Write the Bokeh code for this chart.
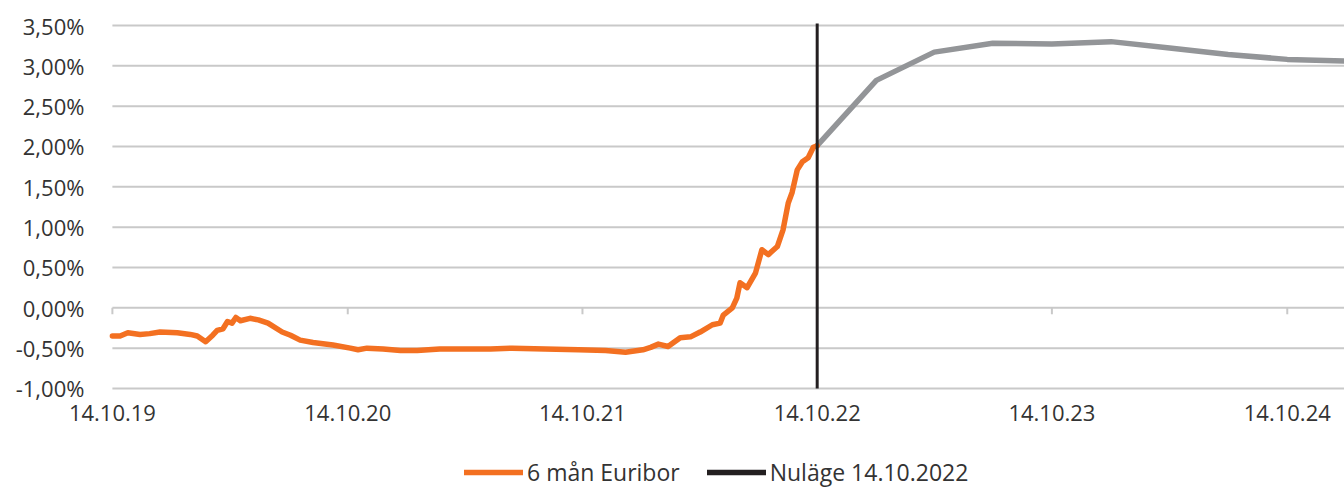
import math
import pandas as pd
from bokeh.plotting import figure
from bokeh.models import Legend, LegendItem, Range1d
from bokeh.core.properties import value
from bokeh.embed import file_html
from bokeh.resources import INLINE

# ---- data ----
euribor_dates = [
    "2019-10-14", "2019-10-26", "2019-11-07", "2019-11-26", "2019-12-11", "2019-12-27",
    "2020-01-23", "2020-02-12", "2020-02-23", "2020-03-07", "2020-03-18", "2020-03-25",
    "2020-04-03", "2020-04-10", "2020-04-17", "2020-04-23", "2020-04-30", "2020-05-15",
    "2020-05-28", "2020-06-12", "2020-07-04", "2020-07-17", "2020-08-01", "2020-08-21",
    "2020-09-21", "2020-10-18", "2020-10-30", "2020-11-13", "2020-12-08", "2021-01-04",
    "2021-01-30", "2021-03-06", "2021-04-18", "2021-05-24", "2021-06-27", "2021-08-17",
    "2021-10-08", "2021-11-19", "2021-12-20", "2022-01-16", "2022-01-28", "2022-02-09",
    "2022-02-24", "2022-03-15", "2022-03-31", "2022-04-15", "2022-05-04", "2022-05-16",
    "2022-05-21", "2022-06-04", "2022-06-11", "2022-06-16", "2022-06-27", "2022-07-10",
    "2022-07-20", "2022-07-30", "2022-08-13", "2022-08-22", "2022-08-30", "2022-09-05",
    "2022-09-13", "2022-09-21", "2022-09-30", "2022-10-08", "2022-10-14",
]
euribor_values = [
    -0.35, -0.35, -0.31, -0.33, -0.32, -0.30,
    -0.31, -0.33, -0.35, -0.42, -0.34, -0.28,
    -0.26, -0.17, -0.19, -0.12, -0.16, -0.13,
    -0.15, -0.19, -0.30, -0.34, -0.40, -0.43,
    -0.46, -0.50, -0.52, -0.50, -0.51, -0.53,
    -0.53, -0.51, -0.51, -0.51, -0.50, -0.51,
    -0.52, -0.53, -0.55, -0.52, -0.49, -0.45,
    -0.48, -0.37, -0.36, -0.30, -0.21, -0.19,
    -0.09, 0.00, 0.12, 0.31, 0.25, 0.43,
    0.72, 0.66, 0.76, 0.97, 1.30, 1.43,
    1.71, 1.81, 1.86, 1.99, 2.01,
]
forecast_dates = ["2022-10-14", "2023-01-14", "2023-04-14", "2023-07-14", "2023-10-14",
                  "2024-01-14", "2024-04-14", "2024-07-14", "2024-10-14", "2025-01-14"]
forecast_values = [2.01, 2.82, 3.17, 3.28, 3.27, 3.30, 3.22, 3.14, 3.08, 3.06]

nulage_date = ["2022-10-14"]
x_tick_dates = ["2019-10-14", "2020-10-14", "2021-10-14", "2022-10-14", "2023-10-14", "2024-10-14"]
x_tick_labels = ["14.10.19", "14.10.20", "14.10.21", "14.10.22", "14.10.23", "14.10.24"]
y_ticks = [-1.0, -0.5, 0.0, 0.5, 1.0, 1.5, 2.0, 2.5, 3.0, 3.5]
y_tick_labels = ["-1,00%", "-0,50%", "0,00%", "0,50%", "1,00%", "1,50%",
                 "2,00%", "2,50%", "3,00%", "3,50%"]
series_labels = ["6 mån Euribor", "Nuläge 14.10.2022"]

# the drawing area covers the whole picture; values start at 14.10.19 / -1 %
x_start, x_end = "2019-04-23", "2025-01-11"
y_start, y_end = -2.24, 3.81
line_top = 3.525

ORANGE = "#F37021"
GREY = "#939598"
BLACK = "#231F20"
GRID = "#C9C9C9"
TEXT = "#333333"
FONT = "Open Sans"

# ---- figure ----
p = figure(width=1344, height=488, x_axis_type="datetime", output_backend="svg",
           toolbar_location=None,
           x_range=Range1d(pd.Timestamp(x_start), pd.Timestamp(x_end)),
           y_range=Range1d(y_start, y_end),
           min_border=0)
p.outline_line_color = None
p.background_fill_color = "white"
p.border_fill_color = "white"
p.xaxis.visible = False
p.yaxis.visible = False
p.xgrid.visible = False
p.ygrid.visible = False

x0 = pd.Timestamp(x_tick_dates[0])
x_far = pd.Timestamp(forecast_dates[-1])
n_y = len(y_ticks)

# horizontal gridlines starting at the first date
p.segment(x0=[x0] * n_y, x1=[x_far] * n_y, y0=y_ticks, y1=y_ticks,
          line_color=GRID, line_width=2)

# value labels left of the gridlines
p.text(x=[x0] * n_y, y=y_ticks, text=y_tick_labels, x_offset=-28,
       text_align="right", text_baseline="middle",
       text_font=value(FONT), text_font_size="22px", text_color=TEXT)

# date labels under the lowest gridline
tick_x = [pd.Timestamp(d) for d in x_tick_dates]
p.text(x=tick_x, y=[y_ticks[0]] * len(tick_x), text=x_tick_labels,
       text_align="center", text_baseline="top", y_offset=17,
       text_font=value(FONT), text_font_size="22px", text_color=TEXT)

# small tick marks hanging from the zero line
p.segment(x0=tick_x, x1=tick_x, y0=[0.0] * len(tick_x), y1=[-0.08] * len(tick_x),
          line_color=GRID, line_width=2)

# series
r_fc = p.line([pd.Timestamp(d) for d in forecast_dates], forecast_values,
              line_color=GREY, line_width=5.5, line_join="round", line_cap="round")
r_eu = p.line([pd.Timestamp(d) for d in euribor_dates], euribor_values,
              line_color=ORANGE, line_width=5.5, line_join="round", line_cap="round")
nx = [pd.Timestamp(d) for d in nulage_date]
r_now = p.segment(x0=nx, x1=nx, y0=[y_ticks[0]], y1=[line_top], line_color=BLACK, line_width=3)
# legend swatch for the "now" marker is drawn thicker, as in the original (no visible data)
r_now_key = p.line(x=nx * 2, y=[math.nan, math.nan], line_color=BLACK, line_width=5.5,
                   line_cap="round")

legend = Legend(items=[LegendItem(label=series_labels[0], renderers=[r_eu]),
                       LegendItem(label=series_labels[1], renderers=[r_now_key])],
                location=(464, 0), orientation="horizontal",
                background_fill_alpha=0, border_line_alpha=0,
                padding=0, margin=0, spacing=27, label_standoff=4,
                glyph_width=59, glyph_height=20,
                label_text_font=FONT, label_text_font_size="23px", label_text_color=TEXT)
p.add_layout(legend, "center")

open("out.html", "w").write(file_html(p, INLINE))
